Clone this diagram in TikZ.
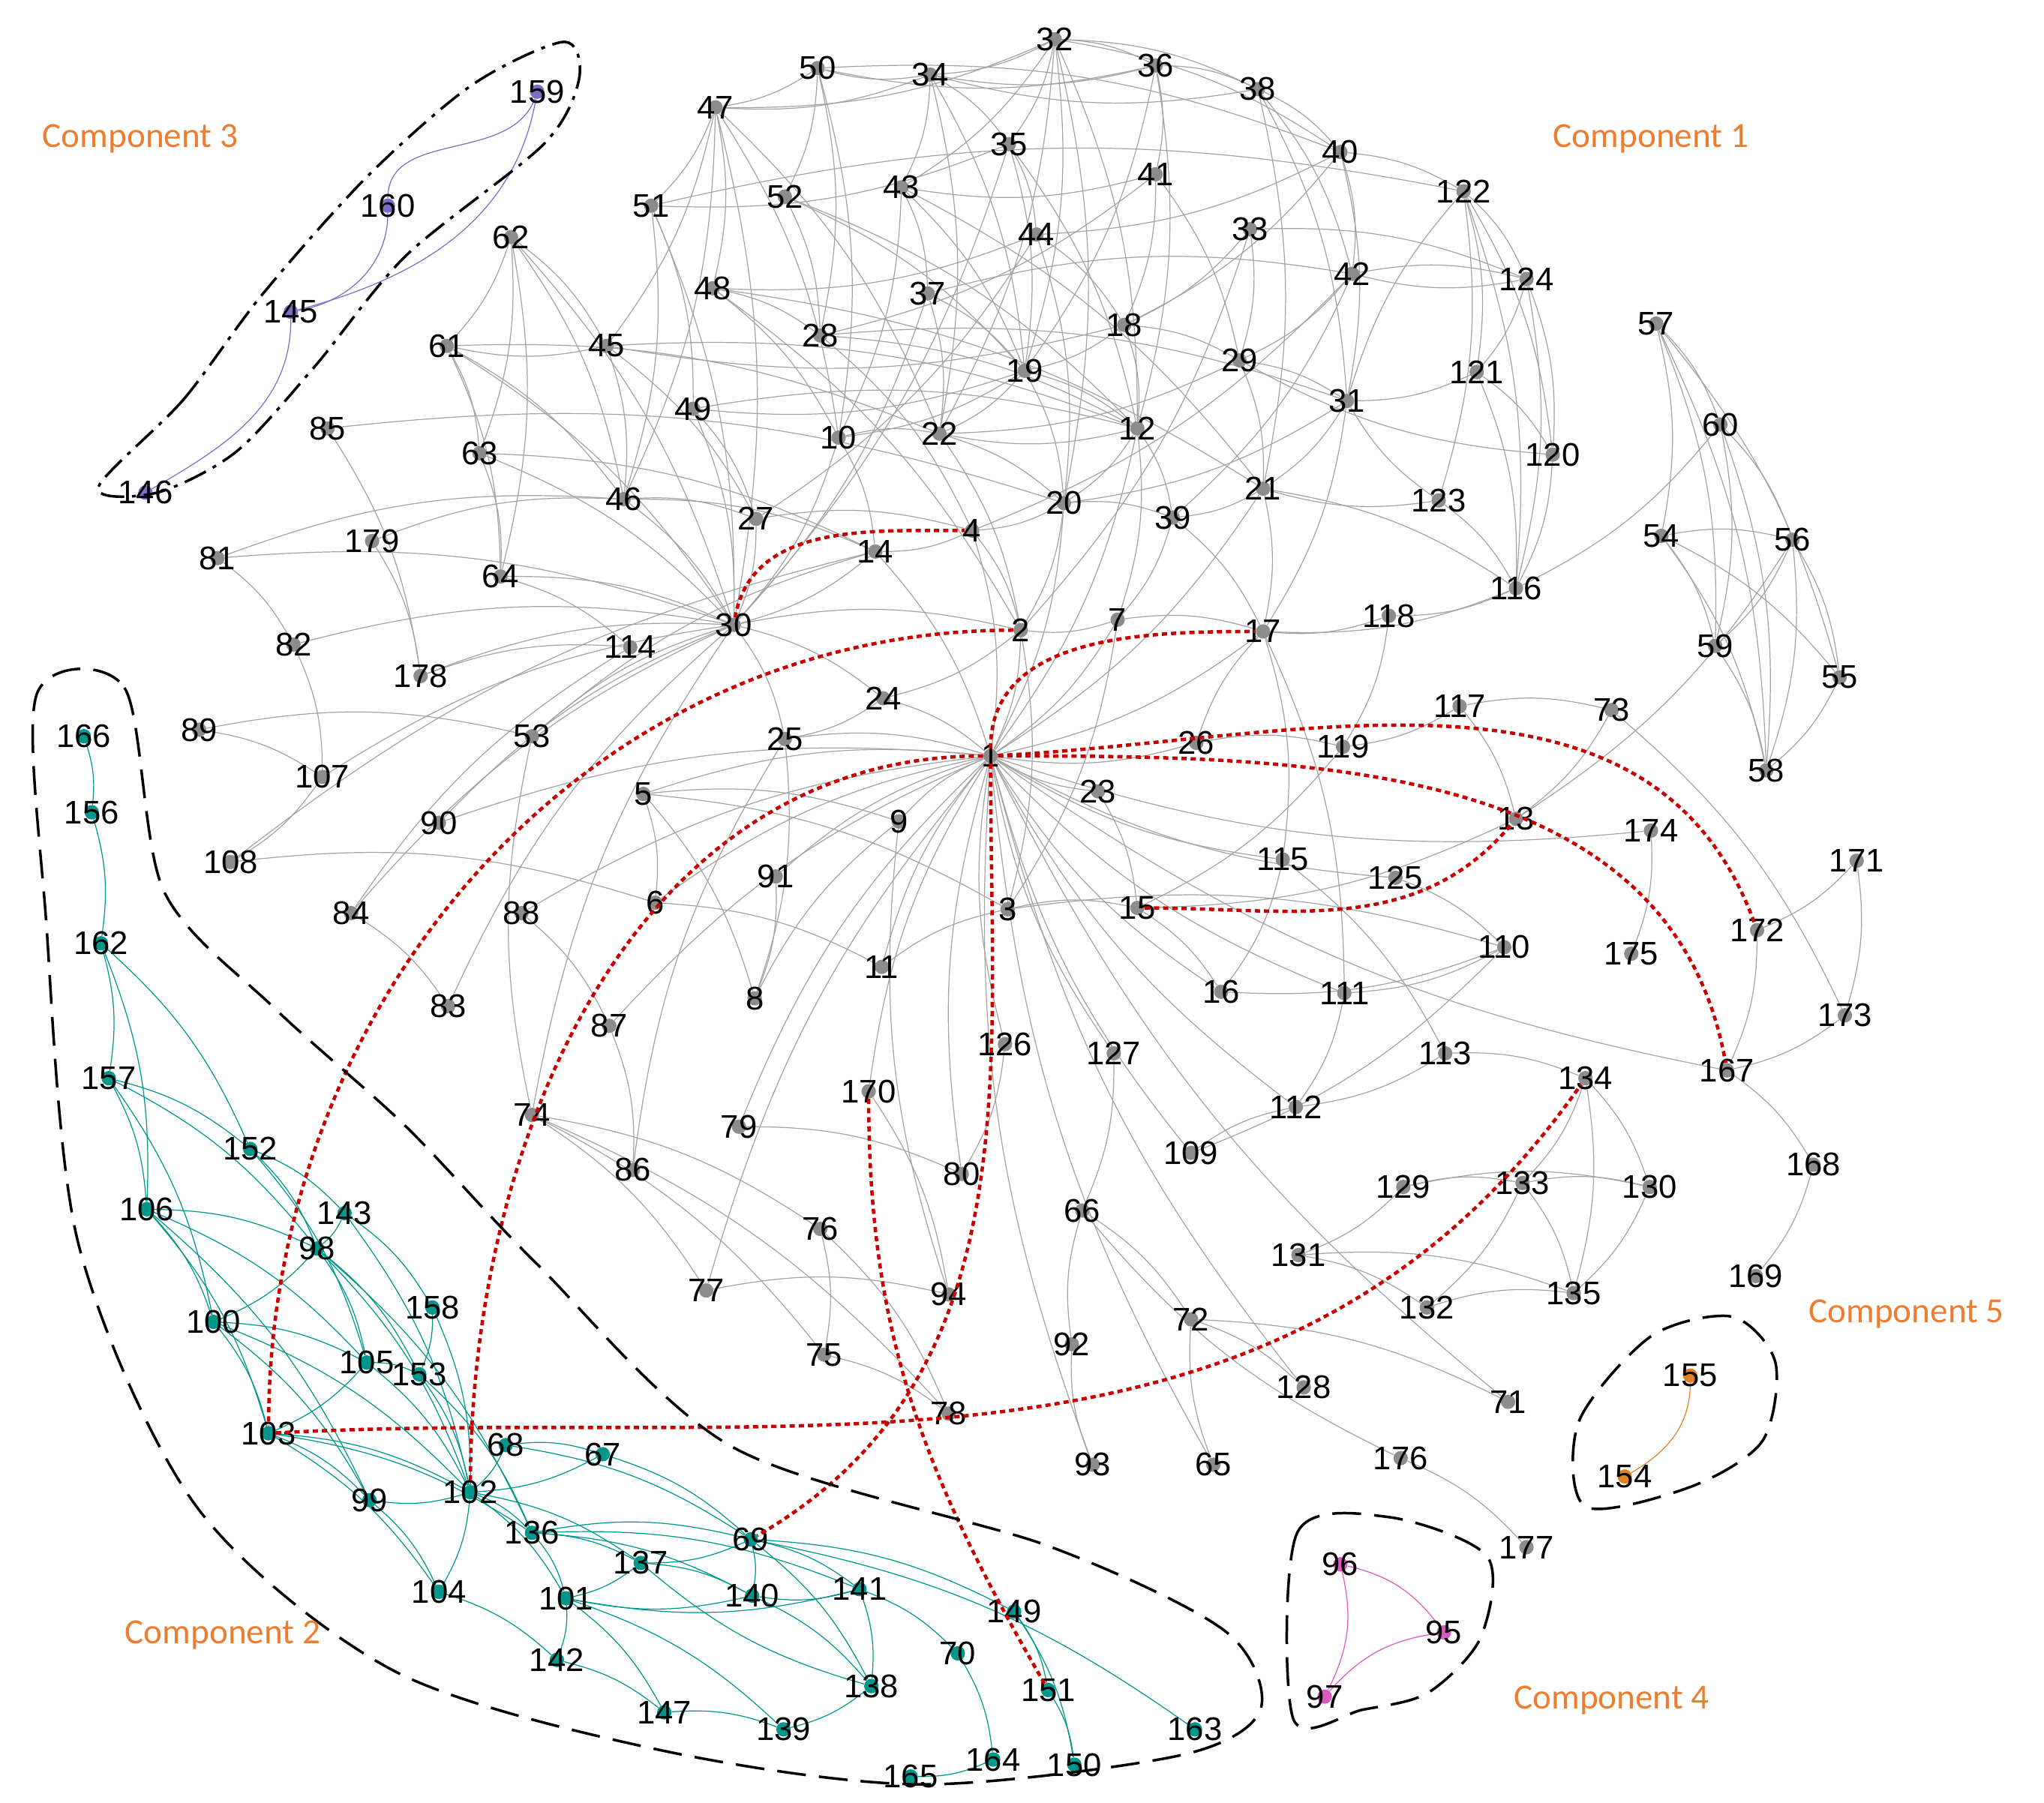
\documentclass[tikz,border=0pt]{standalone}
\usepackage{fontspec}
\setmainfont{Liberation Sans}
\newfontfamily\compfont{Carlito}
\usetikzlibrary{backgrounds}
\definecolor{compgray}{RGB}{140,140,140}
\definecolor{compteal}{RGB}{0,150,140}
\definecolor{comppurple}{RGB}{120,110,200}
\definecolor{comppink}{RGB}{215,90,190}
\definecolor{comporange}{RGB}{225,130,40}
\definecolor{labelorange}{RGB}{237,125,49}
\definecolor{pathred}{RGB}{200,0,0}
\tikzset{
  dot/.style={circle, inner sep=0pt, minimum size=11pt, fill=#1,
    label={[lbl]center:\n}},
  lbl/.style={font=\fontsize{25}{25}\selectfont, text=black, inner sep=0pt},
  edge/.style={draw=#1, line width=0.7pt},
  redpath/.style={draw=pathred, line width=2.6pt, dash pattern=on 4pt off 3pt},
  region/.style={draw=black, line width=2pt, dash pattern=on 22pt off 10pt},
  comp/.style={font=\compfont\fontsize{27}{27}\selectfont, text=labelorange}
}
\begin{document}
\begin{tikzpicture}[x=1pt,y=1pt]
\useasboundingbox (0,0) rectangle (1560,-1376);
% component 1
\foreach \n/\x/\y in {32/805/30, 36/882/50, 38/960/68, 34/710/57, 50/624/52, 47/546/82,
  40/1023/116, 35/770/110, 41/882/133, 43/688/143, 52/599/150, 51/497/157, 122/1117/146,
  33/954/175, 44/791/179, 62/390/181, 42/1032/209, 124/1165/213, 48/544/220, 37/708/224,
  18/858/248, 57/1264/247, 28/626/256, 45/463/264, 61/341/264, 29/946/275, 19/782/283,
  121/1127/284, 31/1028/306, 49/529/312, 12/868/327, 60/1313/324, 85/250/327, 10/640/334,
  22/717/331, 63/366/346, 120/1185/347, 21/964/373, 20/812/384, 46/476/381, 123/1098/382,
  39/895/395, 27/577/396, 4/742/405, 54/1268/409, 56/1368/412, 81/166/426, 179/284/413,
  14/668/421, 64/382/440, 116/1157/449, 30/560/477, 7/853/473, 17/964/482, 118/1060/470,
  2/779/481, 114/481/494, 82/224/492, 178/321/516, 59/1309/493, 55/1404/517, 24/674/533,
  117/1114/539, 73/1230/542, 89/152/557, 53/406/562, 25/599/564, 26/913/567, 119/1025/570,
  1/756/577, 58/1348/588, 107/246/593, 5/491/606, 9/686/627, 23/838/604, 90/335/628,
  13/1157/625, 174/1260/634, 108/176/658, 171/1417/657, 115/979/656, 125/1065/670,
  91/592/669, 6/500/689, 84/268/697, 88/398/697, 3/769/694, 15/868/693, 172/1341/710,
  175/1245/728, 110/1148/723, 11/673/738, 8/576/762, 16/932/757, 111/1026/758, 83/342/768,
  87/465/783, 173/1408/775, 126/767/797, 127/850/804, 113/1103/804, 167/1318/817,
  134/1210/823, 170/663/833, 74/406/851, 112/989/845, 79/564/860, 109/909/880, 86/483/893,
  80/734/896, 168/1384/889, 129/1071/906, 133/1162/903, 130/1259/906, 66/826/924,
  76/626/938, 131/991/958, 169/1340/974, 77/539/985, 94/724/988, 135/1201/987,
  132/1089/998, 72/909/1007, 92/818/1026, 75/629/1034, 128/995/1059, 71/1151/1070,
  78/724/1079, 93/834/1118, 65/926/1118, 176/1069/1113, 177/1165/1181}
  \node[dot=compgray] (n\n) at (\x,-\y) {};
% component 2
\foreach \n/\x/\y in {166/64/562, 156/70/620, 162/77/720, 157/83/823, 152/191/877,
  106/112/923, 143/263/926, 98/242/953, 100/163/1009, 158/330/998, 105/280/1040,
  153/320/1049, 103/205/1094, 68/386/1103, 67/460/1110, 102/359/1139, 99/282/1145,
  136/406/1170, 69/573/1175, 137/489/1193, 141/656/1213, 140/574/1218, 104/335/1215,
  101/432/1220, 149/774/1230, 70/731/1262, 142/425/1267, 138/665/1287, 151/800/1290,
  147/507/1307, 139/598/1320, 163/912/1320, 164/758/1343, 150/820/1347, 165/695/1356}
  \node[dot=compteal] (n\n) at (\x,-\y) {};
% components 3, 4, 5
\foreach \n/\x/\y in {159/410/70, 160/296/157, 145/222/238, 146/111/376}
  \node[dot=comppurple] (n\n) at (\x,-\y) {};
\foreach \n/\x/\y in {96/1023/1194, 95/1102/1246, 97/1011/1295}
  \node[dot=comppink] (n\n) at (\x,-\y) {};
\foreach \n/\x/\y in {155/1290/1050, 154/1240/1127}
  \node[dot=comporange] (n\n) at (\x,-\y) {};

\begin{scope}[on background layer]
\foreach \a/\b in {32/34,32/36,32/38,32/40,32/19,32/12,32/22,32/20,32/43,32/35,32/47,
  36/38,36/41,36/19,36/12,36/34,36/50,38/40,38/42,38/21,38/31,38/34,34/50,34/47,34/35,
  34/43,34/19,34/22,50/47,50/52,50/10,50/28,50/40,47/51,47/48,47/45,47/46,47/30,47/10,
  47/22,40/42,40/122,40/31,40/18,40/44,35/44,35/19,35/12,35/51,35/30,41/29,41/18,41/28,
  41/43,43/37,43/19,43/10,43/21,52/28,52/19,52/12,51/49,51/46,51/30,51/122,33/18,33/29,
  33/2,33/124,44/18,44/20,44/27,44/48,42/124,42/29,42/39,42/4,48/28,48/10,48/21,48/2,
  37/19,37/22,37/42,37/30,18/12,18/19,18/29,18/45,28/4,28/12,28/31,45/46,45/61,45/27,
  45/12,29/31,29/21,29/22,19/12,19/22,19/20,19/10,19/49,31/21,31/20,31/17,31/122,49/27,
  49/30,49/12,12/20,12/39,12/7,12/22,10/22,10/30,10/14,22/20,22/2,21/39,21/17,21/116,
  20/39,20/2,20/4,46/30,46/27,46/14,39/7,39/17,27/30,27/4,4/14,4/2,14/30,30/2,30/24,
  30/25,7/2,7/17,2/24,24/25,
  62/61,62/63,62/64,62/46,62/30,62/45,61/63,61/64,61/22,61/46,61/30,85/178,85/20,63/64,
  63/30,63/14,81/82,81/46,81/30,179/178,179/46,64/30,64/114,82/30,82/107,178/114,178/30,
  89/107,89/53,53/30,53/14,107/30,107/108,108/14,108/6,90/30,90/1,84/30,84/114,84/83,
  88/87,88/1,83/30,87/1,87/86,74/53,74/76,74/77,74/75,74/78,74/30,86/25,5/1,5/9,5/6,
  5/8,5/3,9/1,91/8,91/1,6/1,6/11,25/1,25/8,11/1,11/3,8/9,79/80,79/1,170/1,80/1,76/75,
  76/78,77/94,77/1,75/78,93/92,93/1,92/66,94/9,170/94,
  122/124,122/121,122/120,122/116,122/123,124/121,124/120,124/116,124/42,121/120,
  121/116,121/31,120/116,120/29,123/116,123/21,123/31,57/54,57/59,57/58,57/55,57/60,
  60/56,60/58,60/59,60/116,54/56,54/55,54/59,54/58,56/55,56/59,56/58,56/13,59/58,55/58,
  116/17,116/118,118/17,118/119,117/73,117/119,117/13,73/13,73/173,119/15,13/15,174/1,
  174/175,171/172,171/173,172/167,173/167,167/168,168/169,167/1,115/113,115/16,115/1,
  125/1,125/110,110/111,110/109,110/16,16/1,111/1,111/112,113/112,113/134,134/130,
  134/135,134/133,129/133,129/131,129/130,133/130,133/132,133/135,130/135,131/135,
  131/132,132/135,127/66,127/1,126/1,126/80,109/112,109/1,112/1,66/72,72/128,72/71,
  128/1,71/1,176/177,176/66,65/1,65/72,3/15,3/110,15/16,23/1,23/15,26/1,26/119,26/17,
  17/1,17/115,17/111,21/1,2/1,7/1,4/1,20/1,12/1,24/1,14/1,2/3,7/3}
  \draw[edge=compgray!80] (n\a) to[bend left=12] (n\b);
\foreach \a/\b in {166/156,156/162,162/157,162/152,162/106,157/106,157/100,157/152,
  157/98,152/98,152/143,152/105,106/100,106/103,106/98,106/105,106/99,143/98,143/158,
  143/102,98/100,98/105,98/153,98/102,98/136,100/103,100/105,100/99,100/102,158/153,
  158/102,105/153,105/103,105/102,153/102,153/136,103/99,103/104,103/102,103/136,68/102,
  68/67,68/69,67/102,67/69,102/99,102/136,102/101,102/137,102/104,99/104,136/101,
  136/137,136/69,136/140,136/141,69/137,69/140,69/141,69/138,69/149,69/163,137/140,
  137/101,141/140,141/138,141/70,141/101,140/101,140/138,101/142,101/147,101/139,
  104/142,142/147,138/139,138/137,147/139,149/151,149/150,70/164,151/150,164/165}
  \draw[edge=compteal] (n\a) to[bend left=12] (n\b);
\draw[edge=comppurple] (n159) to[out=-110, in=90] (n160);
\draw[edge=comppurple] (n160) to[out=-90, in=10] (n145);
\draw[edge=comppurple] (n159) to[out=-100, in=15] (n145);
\draw[edge=comppurple] (n145) to[out=-90, in=30] (n146);
\draw[edge=comppink] (n96) to[bend left=20] (n95);
\draw[edge=comppink] (n96) to[bend left=20] (n97);
\draw[edge=comppink] (n97) to[bend left=20] (n95);
\draw[edge=comporange] (n155) to[out=-90, in=30] (n154);
\end{scope}

% highlighted path
\draw[redpath] (n30) to[out=80, in=180] (n4);
\draw[redpath] (n2) to[out=180, in=90] (n103);
\draw[redpath] (n1) to[out=180, in=90] (n102);
\draw[redpath] (n1) to[out=90, in=180] (n17);
\draw[redpath] (n1) to[out=3, in=110] (n172);
\draw[redpath] (n1) to[out=0, in=100] (n167);
\draw[redpath] (n15) to[out=0, in=230] (n13);
\draw[redpath] (n1) to[out=-90, in=30] (n69);
\draw[redpath] (n170) to[out=-90, in=120] (n151);
\draw[redpath] (n103) to[out=3, in=235] (n134);

% component outlines
\draw[region, dash pattern=on 18pt off 6pt on 3pt off 6pt] plot[smooth cycle] coordinates
  {(75,-372) (140,-305) (200,-225) (280,-135) (360,-65) (430,-32) (442,-60) (415,-110)
   (310,-195) (240,-280) (180,-345) (120,-376)};
\draw[region] plot[smooth cycle] coordinates
  {(28,-530) (95,-525) (125,-680) (210,-770) (310,-860) (410,-965) (560,-1105)
   (800,-1180) (935,-1245) (962,-1305) (900,-1340) (700,-1362) (500,-1335) (300,-1275)
   (150,-1150) (60,-950) (35,-700)};
\draw[region] plot[smooth cycle] coordinates
  {(1210,-1150) (1205,-1085) (1260,-1020) (1322,-1005) (1355,-1040) (1345,-1100)
   (1290,-1135)};
\draw[region] plot[smooth cycle] coordinates
  {(987,-1312) (990,-1170) (1060,-1158) (1135,-1188) (1130,-1250) (1090,-1292)
   (1040,-1305)};

\node[comp] (c1) at (1260,-106) {Component 1};
\node[comp] (c2) at (170,-1248) {Component 2};
\node[comp] (c3) at (107,-106) {Component 3};
\node[comp] (c4) at (1230,-1298) {Component 4};
\node[comp] (c5) at (1455,-1003) {Component 5};
\end{tikzpicture}
\end{document}
